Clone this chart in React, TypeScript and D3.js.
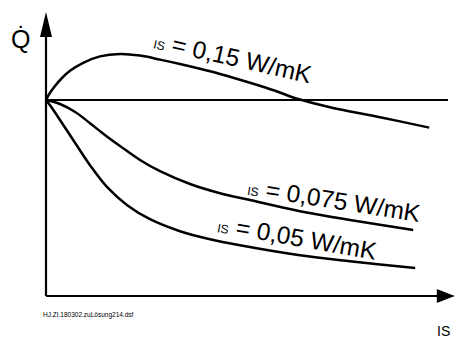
import React from "react";
import * as d3 from "d3";

// Heat flow Q̇ over insulation thickness for three insulation conductivities
const seriesLabels = ["0,15", "0,075", "0,05"];

const xHigh = [0, 0.1, 0.225, 0.4, 0.6, 0.93, 1.35, 1.85, 2.35, 2.85, 3.35, 3.85, 4.35, 5.1, 5.73, 6.28, 7.1, 8.35, 9.58];
const yHigh = [0, 0.18, 0.35, 0.55, 0.73, 0.93, 1.09, 1.15, 1.11, 1.01, 0.9, 0.78, 0.65, 0.43, 0.23, 0.03, -0.18, -0.43, -0.69];

const xMid = [0, 0.35, 0.73, 1.1, 1.48, 1.85, 2.35, 2.85, 3.6, 4.35, 5.1, 6.35, 7.6, 9.18];
const yMid = [0, -0.1, -0.3, -0.58, -0.88, -1.15, -1.5, -1.78, -2.1, -2.33, -2.5, -2.78, -3.0, -3.25];

const xLow = [0, 0.15, 0.35, 0.68, 1.1, 1.53, 2.03, 2.6, 3.35, 4.1, 4.85, 6.35, 7.6, 9.23];
const yLow = [0, -0.2, -0.5, -1.0, -1.63, -2.18, -2.63, -2.98, -3.28, -3.48, -3.63, -3.88, -4.03, -4.2];

const xLabel = "IS";
const yLabel = "Q\u0307";
const sourceNote = "HJ.ZI.180302.zuLösung214.dsf";

const W = 456;
const H = 338;

export default function App() {
  const x = d3.scaleLinear().domain([0, 10.2]).range([46, 454]);
  const y = d3.scaleLinear().domain([-4.9, 2.2]).range([296, 12]);

  const line = d3
    .line<[number, number]>()
    .x((d) => x(d[0]))
    .y((d) => y(d[1]))
    .curve(d3.curveCatmullRom.alpha(0.5));

  const curves = [
    d3.zip(xHigh, yHigh) as [number, number][],
    d3.zip(xMid, yMid) as [number, number][],
    d3.zip(xLow, yLow) as [number, number][],
  ];

  // label anchors (data coordinates) and text angle
  const labels = [
    { x: 2.67, y: 1.3, angle: 12.7 },
    { x: 5.02, y: -2.37, angle: 9 },
    { x: 4.27, y: -3.3, angle: 10 },
  ];

  const x0 = x(0);
  const y0 = y(0);
  const yTop = y(2.2);
  const yBottom = y(-4.9);
  const xRight = x(10.22);

  return (
    <svg
      width={W}
      height={H}
      style={{ position: "absolute", left: 0, top: 0, background: "#fff" }}
      fontFamily="'Liberation Sans', Arial, sans-serif"
    >
      {/* axes */}
      <line x1={x0} y1={yTop + 20} x2={x0} y2={yBottom} stroke="#000" strokeWidth={2.2} />
      <path d={`M${x0},${yTop} L${x0 + 6},${yTop + 25} L${x0 - 6},${yTop + 25} Z`} fill="#000" />
      <line x1={x0} y1={yBottom} x2={xRight - 15} y2={yBottom} stroke="#000" strokeWidth={2.2} />
      <path
        d={`M${xRight},${yBottom} L${xRight - 18},${yBottom - 7} L${xRight - 18},${yBottom + 7} Z`}
        fill="#000"
      />
      {/* reference level */}
      <line x1={x0} y1={y0} x2={x(10.05)} y2={y0} stroke="#000" strokeWidth={2.2} />

      {curves.map((c, i) => (
        <path key={i} d={line(c) || ""} fill="none" stroke="#000" strokeWidth={2.5} />
      ))}

      {labels.map((l, i) => (
        <text
          key={i}
          transform={`translate(${x(l.x)},${y(l.y)}) rotate(${l.angle})`}
          fill="#000"
        >
          <tspan fontSize={12}>IS</tspan>
          <tspan fontSize={24.5}>{` = ${seriesLabels[i]} W/mK`}</tspan>
        </text>
      ))}

      <text x={11} y={48} fontSize={25} fill="#000">
        {yLabel}
      </text>
      <text x={437} y={336} fontSize={14} fill="#000">
        {xLabel}
      </text>
      <text x={43} y={317} fontSize={6.5} fill="#000">
        {sourceNote}
      </text>
    </svg>
  );
}
